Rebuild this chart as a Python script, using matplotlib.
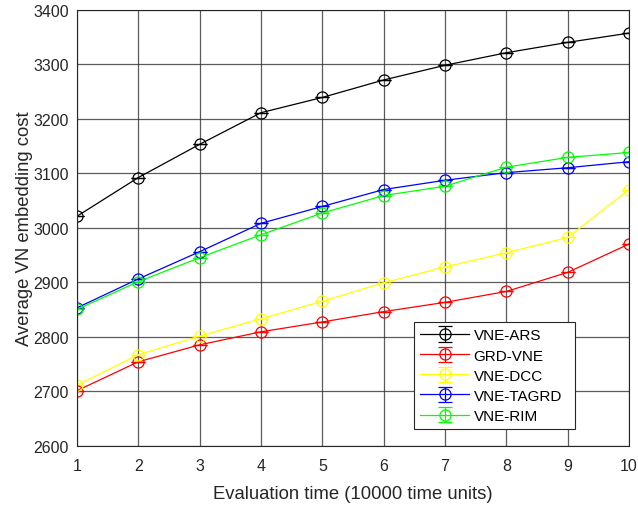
import matplotlib
matplotlib.use("Agg")
import matplotlib.pyplot as plt
import numpy as np

plt.rcParams['font.family'] = ['Liberation Sans', 'DejaVu Sans']

eval_time = [1, 2, 3, 4, 5, 6, 7, 8, 9, 10]

vne_ars = [3021, 3092, 3153, 3211, 3239, 3271, 3298, 3321, 3340, 3357]
grd_vne = [2701, 2754, 2785, 2809, 2827, 2846, 2863, 2883, 2918, 2970]
vne_dcc = [2711, 2767, 2801, 2833, 2865, 2899, 2928, 2954, 2982, 3070]
vne_tagrd = [2853, 2906, 2956, 3008, 3039, 3070, 3087, 3101, 3110, 3121]
vne_rim = [2850, 2901, 2945, 2987, 3027, 3059, 3076, 3111, 3129, 3138]

err = [0] * 10

series = [
    ("VNE-ARS", vne_ars, "black"),
    ("GRD-VNE", grd_vne, "#ff0000"),
    ("VNE-DCC", vne_dcc, "#ffff00"),
    ("VNE-TAGRD", vne_tagrd, "#0000ff"),
    ("VNE-RIM", vne_rim, "#00ff00"),
]

fig = plt.figure(figsize=(6.38, 5.06), dpi=100)
ax = fig.add_axes([0.1207, 0.1172, 0.8652, 0.8617])

for label, vals, col in series:
    ax.errorbar(eval_time, vals, yerr=err, color=col, marker="o", markersize=8,
                markerfacecolor="none", markeredgewidth=0.9, linewidth=0.9,
                capsize=5, capthick=0.9, elinewidth=0.9, label=label)

ax.set_xlim(1, 10)
ax.set_ylim(2600, 3400)
ax.set_xticks(np.arange(1, 11))
ax.set_yticks(np.arange(2600, 3401, 100))
ax.grid(True, color="#333333", linewidth=0.9, alpha=0.8)
ax.set_axisbelow(True)
ax.tick_params(direction="in", labelsize=11.5, colors="#262626", length=0)
ax.tick_params(axis="x", pad=9)
ax.tick_params(axis="y", pad=6)
for s in ax.spines.values():
    s.set_color("#262626")
    s.set_linewidth(0.8)

ax.set_xlabel("Evaluation time (10000 time units)", fontsize=13.3,
              color="#262626", labelpad=8.5)
ax.set_ylabel("Average VN embedding cost", fontsize=13.3, color="#262626",
              labelpad=0)

leg = ax.legend(loc="lower left", bbox_to_anchor=(0.6105, 0.0383, 0.2917, 0.25),
                mode="expand", borderaxespad=0, fontsize=11, fancybox=False,
                framealpha=1, edgecolor="#262626", handlelength=3.2,
                handletextpad=0.3, borderpad=0.4, labelspacing=0.4)
leg.get_frame().set_linewidth(0.8)

fig.savefig("out.png", dpi=100)
